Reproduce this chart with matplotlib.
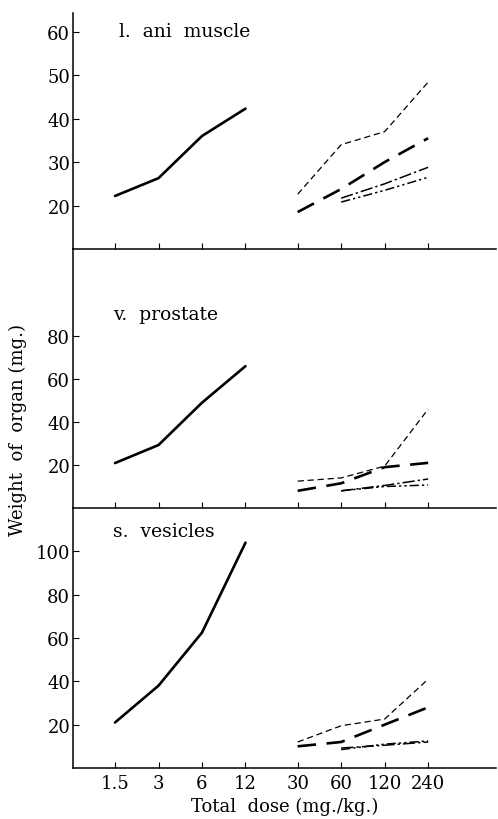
import matplotlib.pyplot as plt

doses = ["1.5", "3", "6", "12", "30", "60", "120", "240"]
pos_low = [0, 1, 2, 3]
pos_high = [4.2, 5.2, 6.2, 7.2]

# l. ani muscle
ani_solid = [22.2, 26.3, 36.0, 42.3]
ani_thin = [22.6, 34.0, 37.0, 48.4]
ani_thick = [18.5, 23.8, 30.0, 35.5]
ani_dd1 = [21.7, 25.0, 28.8]
ani_dd2 = [20.8, 23.5, 26.5]

# v. prostate
pro_solid = [20.9, 29.3, 49.0, 66.0]
pro_thin = [12.5, 14.0, 19.5, 46.0]
pro_thick = [8.0, 11.5, 19.0, 21.0]
pro_dd1 = [8.0, 10.5, 13.5]
pro_dd2 = [8.0, 10.0, 10.7]

# s. vesicles
ves_solid = [21.0, 38.0, 62.5, 104.0]
ves_thin = [12.0, 19.5, 22.6, 41.0]
ves_thick = [10.0, 12.0, 20.0, 28.0]
ves_dd1 = [9.2, 10.5, 12.0]
ves_dd2 = [8.5, 11.0, 12.5]

titles = ["l.  ani  muscle", "v.  prostate", "s.  vesicles"]
ylims = [(10, 64.3), (0, 120.5), (0, 120)]
yticks = [[20, 30, 40, 50, 60], [20, 40, 60, 80], [20, 40, 60, 80, 100]]
panel_data = [
    (ani_solid, ani_thin, ani_thick, ani_dd1, ani_dd2),
    (pro_solid, pro_thin, pro_thick, pro_dd1, pro_dd2),
    (ves_solid, ves_thin, ves_thick, ves_dd1, ves_dd2),
]
# title anchor (x in axes fraction, y in pixels from panel top)
title_pos = [(0.108, 18), (0.095, 65), (0.095, 23)]

plt.rcParams['font.family'] = ['DejaVu Serif']

W, H = 498, 820
fig = plt.figure(figsize=(W / 100, H / 100), dpi=100)

# pixel bounds of each panel (top, bottom)
bounds = [(14, 250), (250, 509), (509, 769)]
left_px, right_px = 73, 496

axes = []
for i, (top, bot) in enumerate(bounds):
    ax = fig.add_axes([left_px / W, 1 - bot / H, (right_px - left_px) / W, (bot - top) / H])
    axes.append(ax)
    solid, thin, thick, dd1, dd2 = panel_data[i]
    ax.plot(pos_low, solid, color='black', lw=1.9, solid_capstyle='round')
    ax.plot(pos_high, thin, color='black', lw=0.9, dashes=(5, 3))
    ax.plot(pos_high, thick, color='black', lw=1.9, dashes=(7, 4))
    ax.plot(pos_high[1:], dd1, color='black', lw=1.1, dashes=(8, 2, 1.5, 2))
    ax.plot(pos_high[1:], dd2, color='black', lw=1.1, dashes=(6, 2, 1.5, 2, 1.5, 2))

    ax.set_xlim(-0.966, 8.76)
    ax.set_ylim(*ylims[i])
    ax.set_yticks(yticks[i])
    ax.set_xticks(pos_low + pos_high)
    ax.spines['top'].set_visible(False)
    ax.spines['right'].set_visible(False)
    ax.spines['left'].set_linewidth(1.1)
    ax.spines['bottom'].set_linewidth(1.1)
    ax.tick_params(direction='in', length=4, width=0.8, labelsize=13, pad=2)
    ax.tick_params(axis='x', pad=4)
    ax.patch.set_alpha(0)
    if i < 2:
        ax.tick_params(axis='x', labelbottom=False)
    else:
        ax.set_xticklabels(doses)
    tx, ty = title_pos[i]
    ax.text(tx, 1 - ty / (bot - top), titles[i], transform=ax.transAxes,
            fontsize=13.5, va='center', ha='left')

axes[2].set_xlabel("Total  dose (mg./kg.)", fontsize=13, labelpad=4)
fig.text(18 / W, 1 - 430 / H, "Weight  of  organ (mg.)", rotation=90,
         fontsize=13, ha='center', va='center')

fig.savefig("out.png", dpi=100)
